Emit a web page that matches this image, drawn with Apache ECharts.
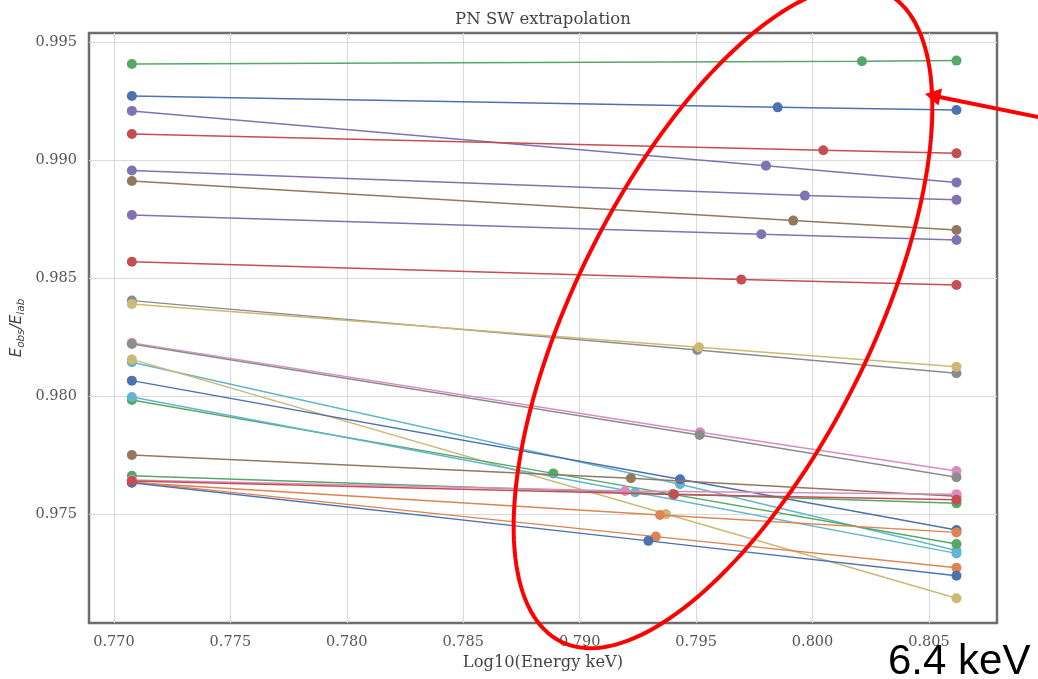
<!DOCTYPE html>
<html>
<head>
<meta charset="utf-8">
<script src="https://cdn.jsdelivr.net/npm/echarts@6/dist/echarts.min.js"></script>
<style>
  html, body { margin: 0; padding: 0; background: #ffffff; }
  #chart { width: 1038px; height: 679px; }
</style>
</head>
<body>
<div id="chart"></div>
<script>
// log10 of the two calibration line energies (about 5.9 keV and 6.4 keV)
const xLow = 0.77077;
const xHigh = 0.80618;

// per-curve intermediate energy (log10 keV)
const xMid = [0.80212, 0.79850, 0.79800, 0.80046, 0.79967, 0.79917, 0.79780, 0.79694,
              0.79505, 0.79512, 0.79517, 0.79515, 0.79431, 0.79371, 0.79431, 0.78887,
              0.79238, 0.79220, 0.79400, 0.79345, 0.79327, 0.79295, 0.79195, 0.79405];

// E_obs / E_lab at the low, intermediate and high energy
const yLow  = [0.99407, 0.99271, 0.99208, 0.99110, 0.98955, 0.98911, 0.98767, 0.98569,
               0.98404, 0.98390, 0.98225, 0.98220, 0.98143, 0.98155, 0.98065, 0.97983,
               0.97996, 0.97750, 0.97662, 0.97633, 0.97636, 0.97632, 0.97644, 0.97640];
const yMid  = [0.99418, 0.99223, 0.98976, 0.99041, 0.98849, 0.98743, 0.98685, 0.98493,
               0.98195, 0.98206, 0.97846, 0.97835, 0.97626, 0.97500, 0.97647, 0.97672,
               0.97592, 0.97651, 0.97585, 0.97496, 0.97404, 0.97386, 0.97597, 0.97583];
const yHigh = [0.99421, 0.99212, 0.98905, 0.99028, 0.98831, 0.98703, 0.98661, 0.98470,
               0.98096, 0.98124, 0.97682, 0.97656, 0.97345, 0.97143, 0.97432, 0.97373,
               0.97333, 0.97575, 0.97545, 0.97422, 0.97272, 0.97238, 0.97584, 0.97560];

const xTicks = [0.770, 0.775, 0.780, 0.785, 0.790, 0.795, 0.800, 0.805];
const yTicks = [0.975, 0.980, 0.985, 0.990, 0.995];

// seaborn "deep" colours
const deep = {
  blue: '#4C72B0', orange: '#DD8452', green: '#55A868', red: '#C44E52', purple: '#8172B3',
  brown: '#937860', pink: '#DA8BC3', gray: '#8C8C8C', olive: '#CCB974', cyan: '#64B5CD'
};
const curveColors = ['green', 'blue', 'purple', 'red', 'purple', 'brown', 'purple', 'red',
                     'gray', 'olive', 'pink', 'gray', 'cyan', 'olive', 'blue', 'green',
                     'cyan', 'brown', 'green', 'orange', 'orange', 'blue', 'pink', 'red'];

const serif = '"DejaVu Serif", serif';
const tickText = { fontFamily: serif, fontSize: 14.5, color: '#555555' };

const series = yLow.map((_, i) => ({
  type: 'line',
  data: [[xLow, yLow[i]], [xMid[i], yMid[i]], [xHigh, yHigh[i]]],
  symbol: 'circle',
  symbolSize: 10,
  showSymbol: true,
  lineStyle: { width: 1.5, color: deep[curveColors[i]] },
  itemStyle: { color: deep[curveColors[i]] },
  emphasis: { disabled: true },
  z: 2 + i
}));

// hand-drawn style highlight: rotated ellipse outline
const ell = { cx: 723, cy: 317, a: 363, b: 148, ux: 0.447, uy: -0.894 };
const ellipsePts = [];
for (let k = 0; k < 180; k++) {
  const t = (k / 180) * Math.PI * 2;
  const ca = ell.a * Math.cos(t), sb = ell.b * Math.sin(t);
  ellipsePts.push([ell.cx + ca * ell.ux + sb * (-ell.uy), ell.cy + ca * ell.uy + sb * ell.ux]);
}

const chart = echarts.init(document.getElementById('chart'), null, { renderer: 'canvas' });
chart.setOption({
  animation: false,
  backgroundColor: '#ffffff',
  title: {
    text: 'PN SW extrapolation',
    left: 543,
    textAlign: 'center',
    top: 11,
    padding: 0,
    textStyle: { fontFamily: serif, fontSize: 16.5, fontWeight: 'normal', color: '#444444' }
  },
  grid: {
    left: 89, right: 41, top: 33, bottom: 56,
    show: true, borderColor: '#6e6e6e', borderWidth: 2.5, backgroundColor: '#ffffff'
  },
  xAxis: {
    type: 'value',
    min: 0.76893,
    max: 0.80792,
    name: 'Log10(Energy keV)',
    nameLocation: 'middle',
    nameGap: 31,
    nameTextStyle: { fontFamily: serif, fontSize: 16.3, color: '#444444' },
    axisLine: { show: false },
    axisTick: { show: false, customValues: xTicks },
    axisLabel: {
      customValues: xTicks, margin: 12,
      formatter: v => v.toFixed(3), ...tickText
    },
    splitLine: { show: true, lineStyle: { color: '#d9d9d9', width: 1 } }
  },
  yAxis: {
    type: 'value',
    min: 0.97038,
    max: 0.99538,
    name: '{i|E}{s|obs}{i|/E}{s|lab}',
    nameLocation: 'middle',
    nameRotate: 90,
    nameGap: 62,
    nameMoveOverlap: false,
    nameTextStyle: {
      rich: {
        i: { fontFamily: '"DejaVu Sans", sans-serif', fontStyle: 'italic', fontSize: 15,
             color: '#444444', lineHeight: 20, verticalAlign: 'middle' },
        s: { fontFamily: '"DejaVu Sans", sans-serif', fontStyle: 'italic', fontSize: 10.5,
             color: '#444444', lineHeight: 10, verticalAlign: 'bottom' }
      }
    },
    axisLine: { show: false },
    axisTick: { show: false, customValues: yTicks },
    axisLabel: {
      customValues: yTicks, margin: 12,
      formatter: v => v.toFixed(3), ...tickText
    },
    splitLine: { show: true, lineStyle: { color: '#d9d9d9', width: 1 } }
  },
  series: series,
  graphic: [
    {
      type: 'polygon', z: 100, silent: true,
      shape: { points: ellipsePts },
      style: { fill: null, stroke: '#ff0000', lineWidth: 4 }
    },
    {
      type: 'line', z: 100, silent: true,
      shape: { x1: 1045, y1: 118.5, x2: 937, y2: 96.5 },
      style: { stroke: '#ff0000', lineWidth: 4 }
    },
    {
      type: 'polygon', z: 100, silent: true,
      shape: { points: [[925, 94], [942, 88.5], [938.5, 105.5]] },
      style: { fill: '#ff0000' }
    },
    {
      type: 'text', z: 100, silent: true,
      style: {
        x: 888, y: 662, text: '6.4 keV',
        font: '42px "Liberation Sans", Arial, sans-serif',
        fill: '#000000', verticalAlign: 'middle', align: 'left'
      }
    }
  ]
});
</script>
</body>
</html>
